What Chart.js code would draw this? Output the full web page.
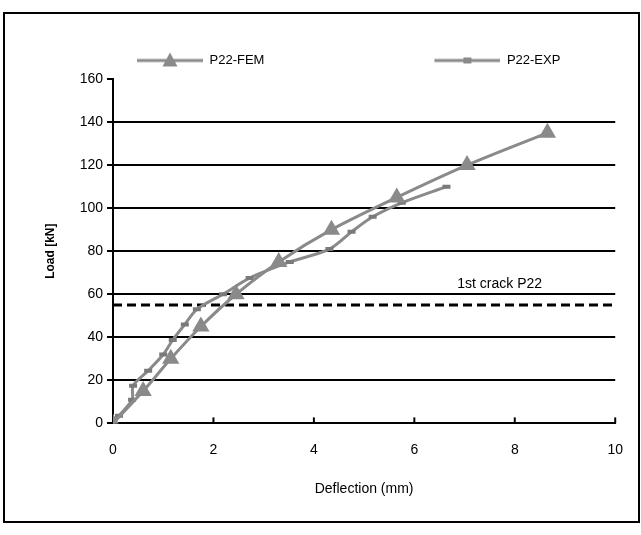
<!DOCTYPE html>
<html>
<head>
<meta charset="utf-8">
<script src="https://cdn.jsdelivr.net/npm/chart.js@4.4.1/dist/chart.umd.min.js"></script>
<style>
    html, body { margin: 0; padding: 0; background: #fff; }
    #wrap { position: relative; width: 641px; height: 535px; }
    #frame { position: absolute; left: 3px; top: 12px; width: 633px; height: 507px; border: 2px solid #000; pointer-events: none; }
</style>
</head>
<body>
<div id="wrap">
    <canvas id="chart" width="641" height="535"></canvas>
    <div id="frame"></div>
</div>
<script>
// Load-deflection data
const femDeflection = [0, 0.6, 1.15, 1.75, 2.45, 3.3, 4.35, 5.65, 7.05, 8.65];
const femLoad = [0, 15, 30, 45, 60, 75, 90, 105, 120, 135];
const expDeflection = [0, 0.12, 0.38, 0.4, 0.7, 1.0, 1.19, 1.43, 1.67, 2.19, 2.72, 3.52, 4.31, 4.75, 5.17, 5.75, 6.64];
const expLoad = [0, 3.5, 11, 17.5, 24.5, 32, 38.8, 46, 53, 60, 67.5, 75, 81, 89, 96, 102.5, 110];
const seriesNames = ['P22-FEM', 'P22-EXP'];
const xTicks = [0, 2, 4, 6, 8, 10];
const yTicks = [0, 20, 40, 60, 80, 100, 120, 140, 160];
const crackLoad = 55;
const crackText = '1st crack P22';
const crackLabelAt = [7.7, 64.5];

const gray = '#8a8a8a';
const fontFamily = '"Liberation Sans", Arial, sans-serif';

const toPoints = (xs, ys) => xs.map((x, i) => ({ x, y: ys[i] }));

// legend swatch: line with marker, padded on the left so the two entries sit apart
function legendSwatch(marker) {
    const c = document.createElement('canvas');
    c.width = 226;
    c.height = 20;
    const g = c.getContext('2d');
    g.strokeStyle = gray;
    g.fillStyle = gray;
    g.lineWidth = 3;
    g.beginPath();
    g.moveTo(160, 10);
    g.lineTo(226, 10);
    g.stroke();
    if (marker === 'triangle') {
        g.beginPath();
        g.moveTo(193, 2);
        g.lineTo(200.5, 16);
        g.lineTo(185.5, 16);
        g.closePath();
        g.fill();
    } else {
        g.fillRect(189, 7, 8, 6);
    }
    return c;
}
const swatches = [legendSwatch('triangle'), legendSwatch('rect')];

const extras = {
    id: 'extras',
    afterDatasetsDraw(chart) {
        const { ctx, scales: { x, y } } = chart;
        ctx.save();
        // tick marks on the x axis point into the plot
        ctx.strokeStyle = '#000';
        ctx.lineWidth = 2;
        xTicks.slice(1).forEach(v => {
            const px = x.getPixelForValue(v);
            ctx.beginPath();
            ctx.moveTo(px, y.bottom);
            ctx.lineTo(px, y.bottom - 6);
            ctx.stroke();
        });
        ctx.fillStyle = '#000';
        ctx.font = '14px ' + fontFamily;
        ctx.textAlign = 'center';
        ctx.textBaseline = 'middle';
        ctx.fillText(crackText, x.getPixelForValue(crackLabelAt[0]), y.getPixelForValue(crackLabelAt[1]));
        ctx.restore();
    }
};

Chart.defaults.font.family = fontFamily;
Chart.defaults.color = '#000';

new Chart(document.getElementById('chart'), {
    type: 'line',
    data: {
        datasets: [{
            label: seriesNames[0],
            data: toPoints(femDeflection, femLoad),
            borderColor: gray,
            backgroundColor: gray,
            borderWidth: 3,
            tension: 0.3,
            pointStyle: 'triangle',
            pointRadius: 10,
            pointBorderWidth: 0,
            pointBackgroundColor: gray
        }, {
            label: seriesNames[1],
            data: toPoints(expDeflection, expLoad),
            borderColor: gray,
            backgroundColor: gray,
            borderWidth: 3,
            tension: 0.3,
            pointStyle: 'line',
            pointRadius: 4,
            pointBorderWidth: 4,
            pointBorderColor: '#7a7a7a'
        }, {
            label: crackText,
            data: [{ x: xTicks[0], y: crackLoad }, { x: xTicks[xTicks.length - 1], y: crackLoad }],
            borderColor: '#000',
            borderWidth: 3,
            borderDash: [9, 5],
            pointRadius: 0,
            tension: 0
        }]
    },
    options: {
        responsive: false,
        animation: false,
        devicePixelRatio: 1,
        layout: {
            padding: { left: -33, right: 25, top: 44, bottom: 10 }
        },
        plugins: {
            tooltip: { enabled: false },
            legend: {
                position: 'top',
                align: 'start',
                labels: {
                    usePointStyle: true,
                    pointStyleWidth: 226,
                    padding: 10,
                    font: { size: 13 },
                    color: '#000',
                    generateLabels(chart) {
                        return Chart.defaults.plugins.legend.labels.generateLabels(chart)
                            .filter(item => item.datasetIndex < 2)
                            .map(item => Object.assign(item, { pointStyle: swatches[item.datasetIndex] }));
                    }
                }
            },
            // empty spacer box between legend and plot area
            subtitle: {
                display: true,
                text: '',
                weight: 500,
                padding: 0,
                font: { size: 2, lineHeight: 1 }
            }
        },
        scales: {
            x: {
                type: 'linear',
                min: xTicks[0],
                max: xTicks[xTicks.length - 1],
                ticks: { stepSize: 2, padding: 18, font: { size: 14 }, color: '#000', maxRotation: 0 },
                grid: { display: false, drawTicks: false },
                border: { display: true, color: '#000', width: 2 },
                title: { display: true, text: 'Deflection (mm)', font: { size: 14 }, color: '#000', padding: { top: 5, bottom: 27 } }
            },
            y: {
                min: yTicks[0],
                max: yTicks[yTicks.length - 1],
                ticks: { stepSize: 20, padding: 4, font: { size: 14 }, color: '#000' },
                grid: {
                    color: ctx => ctx.tick && ctx.tick.value === yTicks[yTicks.length - 1] ? 'rgba(0,0,0,0)' : '#000',
                    lineWidth: 2,
                    tickColor: '#000',
                    tickLength: 6
                },
                border: { display: true, color: '#000', width: 2 },
                title: { display: true, text: 'Load [kN]', font: { size: 12, weight: 'bold' }, color: '#000', padding: { top: 76, bottom: 0 } },
                afterFit(scale) { scale.width = 146; }
            }
        }
    },
    plugins: [extras]
});
</script>
</body>
</html>
